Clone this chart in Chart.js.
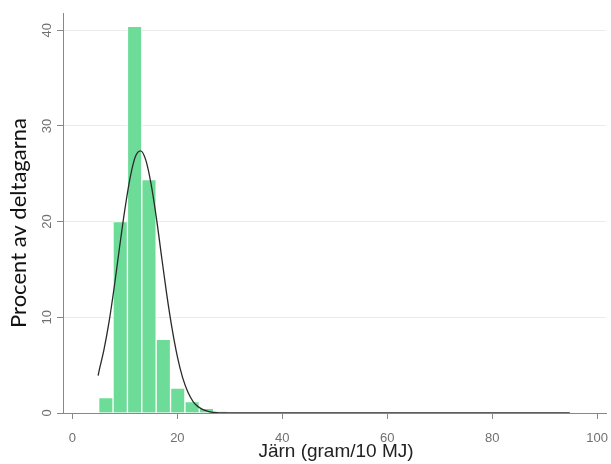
<!DOCTYPE html>
<html>
<head>
<meta charset="utf-8">
<script src="https://cdn.jsdelivr.net/npm/chart.js@4.4.1/dist/chart.umd.min.js"></script>
<style>
  html, body { margin: 0; padding: 0; background: #ffffff; }
  canvas { display: block; }
</style>
</head>
<body>
<canvas id="c" width="611" height="464"></canvas>
<script>
// Histogram bins (centre of each bin, gram/10 MJ) and share of participants (%)
const binCenters = [6.37, 9.11, 11.85, 14.59, 17.33, 20.07, 22.81, 25.55, 28.29];
const binPercent = [1.6, 20.0, 40.4, 24.4, 7.7, 2.6, 1.2, 0.5, 0.15];

// Overlaid normal curve
const curveX = [4.9, 5, 6, 7, 8, 9, 10, 11, 12, 13, 14, 15, 16, 17, 18, 19, 20, 21, 22, 23, 24, 25, 26, 27, 28, 30, 40, 60, 80, 94.8];
const curvePercent = [3.9, 4.2, 6.6, 9.6, 13.3, 17.4, 21.3, 24.6, 26.8, 27.4, 26.4, 23.9, 20.4, 16.3, 12.3, 8.8, 5.9, 3.7, 2.2, 1.2, 0.64, 0.32, 0.15, 0.06, 0.02, 0, 0, 0, 0, 0];

// Axis ticks and titles
const xTicks = [0, 20, 40, 60, 80, 100];
const yTicks = [0, 10, 20, 30, 40];
const xTitle = 'Järn (gram/10 MJ)';
const yTitle = 'Procent av deltagarna';

const tickFont = "'Liberation Sans', Arial, sans-serif";

const textPlugin = {
  id: 'textPlugin',
  afterDraw(chart) {
    const ctx = chart.ctx;
    const ys = chart.scales.y;
    ctx.save();
    // rotated y tick labels
    ctx.fillStyle = '#707070';
    ctx.font = '13px ' + tickFont;
    ctx.textAlign = 'center';
    ctx.textBaseline = 'middle';
    yTicks.forEach(v => {
      const py = ys.getPixelForValue(v);
      ctx.save();
      ctx.translate(47, py);
      ctx.rotate(-Math.PI / 2);
      ctx.fillText(String(v), 0, 0);
      ctx.restore();
    });
    // y title
    ctx.save();
    ctx.fillStyle = '#111111';
    ctx.font = "22px Lato, 'Open Sans', sans-serif";
    ctx.translate(19, 223);
    ctx.rotate(-Math.PI / 2);
    ctx.fillText(yTitle, 0, 0);
    ctx.restore();
    // x title
    ctx.fillStyle = '#222222';
    ctx.font = '19px ' + tickFont;
    ctx.fillText(xTitle, 336, 452);
    ctx.restore();
  }
};

new Chart(document.getElementById('c'), {
  type: 'bar',
  data: {
    datasets: [
      {
        type: 'line',
        data: curveX.map((x, i) => ({ x: x, y: curvePercent[i] })),
        borderColor: '#2a2a2a',
        borderWidth: 1.3,
        pointRadius: 0,
        fill: false,
        cubicInterpolationMode: 'monotone',
        order: 0
      },
      {
        type: 'bar',
        data: binCenters.map((x, i) => ({ x: x, y: binPercent[i] })),
        backgroundColor: '#6ddc98',
        borderColor: 'rgba(255,255,250,0.85)',
        borderWidth: 1,
        barPercentage: 1,
        categoryPercentage: 1,
        order: 1
      }
    ]
  },
  options: {
    responsive: false,
    animation: false,
    devicePixelRatio: 1,
    layout: { padding: { top: 13, right: 5, left: 0, bottom: 0 } },
    plugins: { legend: { display: false }, tooltip: { enabled: false }, title: { display: false } },
    scales: {
      x: {
        type: 'linear',
        min: -1.8,
        max: 101.7,
        offset: false,
        afterBuildTicks: s => { s.ticks = xTicks.map(v => ({ value: v })); },
        afterFit: s => { s.height = 51; s.paddingLeft = 0; s.paddingRight = 0; },
        grid: { offset: false, drawOnChartArea: false, drawTicks: true, tickLength: 6, tickColor: '#888888' },
        border: { color: '#888888', width: 1 },
        ticks: { color: '#707070', font: { family: tickFont, size: 13 }, padding: 12, maxRotation: 0 }
      },
      y: {
        type: 'linear',
        min: 0,
        max: 41.8,
        afterBuildTicks: s => { s.ticks = yTicks.map(v => ({ value: v })); },
        afterFit: s => { s.width = 63; s.paddingTop = 0; s.paddingBottom = 0; },
        grid: {
          color: c => (c.tick && c.tick.value === 0) ? 'rgba(0,0,0,0)' : '#ececec',
          tickLength: 6,
          tickColor: '#888888'
        },
        border: { color: '#888888', width: 1 },
        ticks: { display: false }
      }
    }
  },
  plugins: [textPlugin]
});
</script>
</body>
</html>
